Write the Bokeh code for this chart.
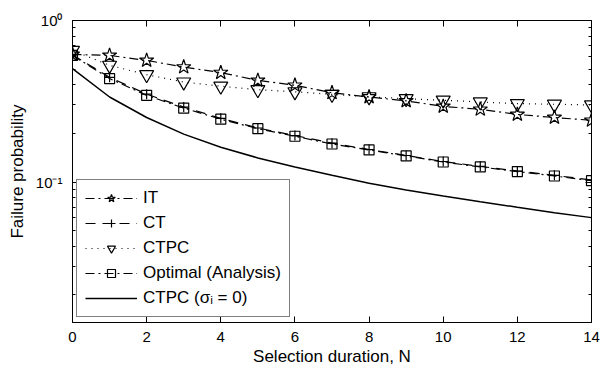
from bokeh.plotting import figure
from bokeh.models import (Legend, LegendItem, FixedTicker, LinearAxis, LogAxis, Range1d,
                          CustomLabelingPolicy)
from bokeh.embed import file_html
from bokeh.resources import INLINE

# ---- data ----
N = list(range(15))
it_vals = [0.617, 0.608, 0.566, 0.515, 0.476, 0.426, 0.397, 0.357, 0.336, 0.318, 0.294, 0.282, 0.262, 0.251, 0.241]
ct_vals = [0.612, 0.445, 0.350, 0.291, 0.248, 0.216, 0.194, 0.174, 0.159, 0.146, 0.134, 0.125, 0.117, 0.110, 0.103]
ctpc_vals = [0.653, 0.528, 0.462, 0.416, 0.392, 0.373, 0.362, 0.349, 0.337, 0.328, 0.321, 0.313, 0.306, 0.303, 0.300]
optimal_vals = [0.608, 0.437, 0.344, 0.287, 0.245, 0.214, 0.192, 0.172, 0.158, 0.145, 0.133, 0.124, 0.116, 0.109, 0.102]
ctpc0_vals = [0.503, 0.336, 0.251, 0.198, 0.164, 0.141, 0.124, 0.110, 0.0982, 0.0893, 0.0820, 0.0756, 0.0698, 0.0646, 0.0602]

x_ticks = [0, 2, 4, 6, 8, 10, 12, 14]
y_ticks = [0.1, 1.0]
y_tick_labels = ["10\u207b\u00b9", "10\u2070"]
y_minor = [0.02, 0.03, 0.04, 0.05, 0.06, 0.07, 0.08, 0.09, 0.2, 0.3, 0.4, 0.5, 0.6, 0.7, 0.8, 0.9]
labels = ["IT", "CT", "CTPC", "Optimal (Analysis)", "CTPC (\u03c3\u1d62 = 0)"]

FONT = "Liberation Sans"

p = figure(width=600, height=368, y_axis_type="log",
           x_range=Range1d(0, 14), y_range=Range1d(0.0135, 1.0),
           output_backend="svg", toolbar_location=None,
           min_border_left=72, min_border_right=9, min_border_top=20, min_border_bottom=45)
p.background_fill_color = "white"
p.border_fill_color = "white"
p.outline_line_color = "black"
p.outline_line_width = 1
p.grid.visible = False

yticker = FixedTicker(ticks=y_ticks, minor_ticks=y_minor)
xticker = FixedTicker(ticks=x_ticks, minor_ticks=[])

def style_axis(ax, show_labels=True):
    ax.axis_line_color = "black"
    ax.major_tick_in = 6
    ax.major_tick_out = 0
    ax.minor_tick_in = 3
    ax.minor_tick_out = 0
    ax.major_tick_line_color = "black"
    ax.minor_tick_line_color = "black"
    ax.major_label_text_font = FONT
    ax.major_label_text_color = "black"
    ax.axis_label_text_font = FONT
    ax.axis_label_text_font_style = "normal"
    ax.axis_label_text_color = "black"
    if show_labels:
        ax.major_label_text_font_size = "15px"
        ax.axis_label_text_font_size = "17px"
    else:
        ax.major_label_text_font_size = "2px"
        ax.major_label_text_color = None
        ax.major_label_standoff = 0
        ax.major_label_policy = CustomLabelingPolicy(
            code="for (const i of Array.from(indices)) { indices.unset(i) }; return indices")

xa = p.xaxis[0]
xa.ticker = xticker
style_axis(xa)
xa.axis_label = "Selection duration, N"
xa.major_label_standoff = 9
xa.axis_label_standoff = 2

ya = p.yaxis[0]
ya.ticker = yticker
style_axis(ya)
ya.axis_label = "Failure probability"
ya.major_label_overrides = dict(zip(y_ticks, y_tick_labels))
ya.major_label_standoff = 10
ya.axis_label_standoff = 6

top_ax = LinearAxis(ticker=xticker)
style_axis(top_ax, show_labels=False)
p.add_layout(top_ax, "above")

right_ax = LogAxis(ticker=yticker)
style_axis(right_ax, show_labels=False)
p.add_layout(right_ax, "right")

LW = 1.2
# IT: dash-dot with stars
l_it = p.line(N, it_vals, line_color="black", line_width=LW, line_dash="9 4 2 4")
m_it = p.scatter(N, it_vals, marker="star", size=15, fill_color=None, line_color="black", line_width=LW)
# CT: dashed with plus
l_ct = p.line(N, ct_vals, line_color="black", line_width=LW, line_dash="10 7")
m_ct = p.scatter(N, ct_vals, marker="cross", size=10, fill_color=None, line_color="black", line_width=LW)
# CTPC: dotted with down triangles
l_ctpc = p.line(N, ctpc_vals, line_color="black", line_width=LW, line_dash="1 5")
m_ctpc = p.scatter(N, ctpc_vals, marker="inverted_triangle", size=14, fill_color=None, line_color="black", line_width=LW)
# Optimal: dash-dot with squares
l_opt = p.line(N, optimal_vals, line_color="black", line_width=LW, line_dash="9 4 2 4")
m_opt = p.scatter(N, optimal_vals, marker="square", size=10, fill_color=None, line_color="black", line_width=LW)
# CTPC (sigma=0): solid
l_0 = p.line(N, ctpc0_vals, line_color="black", line_width=1.5)

legend = Legend(items=[
    LegendItem(label=labels[0], renderers=[l_it, m_it]),
    LegendItem(label=labels[1], renderers=[l_ct, m_ct]),
    LegendItem(label=labels[2], renderers=[l_ctpc, m_ctpc]),
    LegendItem(label=labels[3], renderers=[l_opt, m_opt]),
    LegendItem(label=labels[4], renderers=[l_0]),
], location=(4, 5))
legend.label_text_font = FONT
legend.label_text_font_size = "17px"
legend.label_text_color = "black"
legend.label_height = 20
legend.glyph_height = 20
legend.glyph_width = 52
legend.label_standoff = 6
legend.spacing = 5
legend.padding = 8
legend.margin = 0
legend.border_line_color = "black"
legend.border_line_width = 1
legend.background_fill_color = "white"
legend.background_fill_alpha = 1.0
p.add_layout(legend, "center")

open("out.html", "w").write(file_html(p, INLINE))
